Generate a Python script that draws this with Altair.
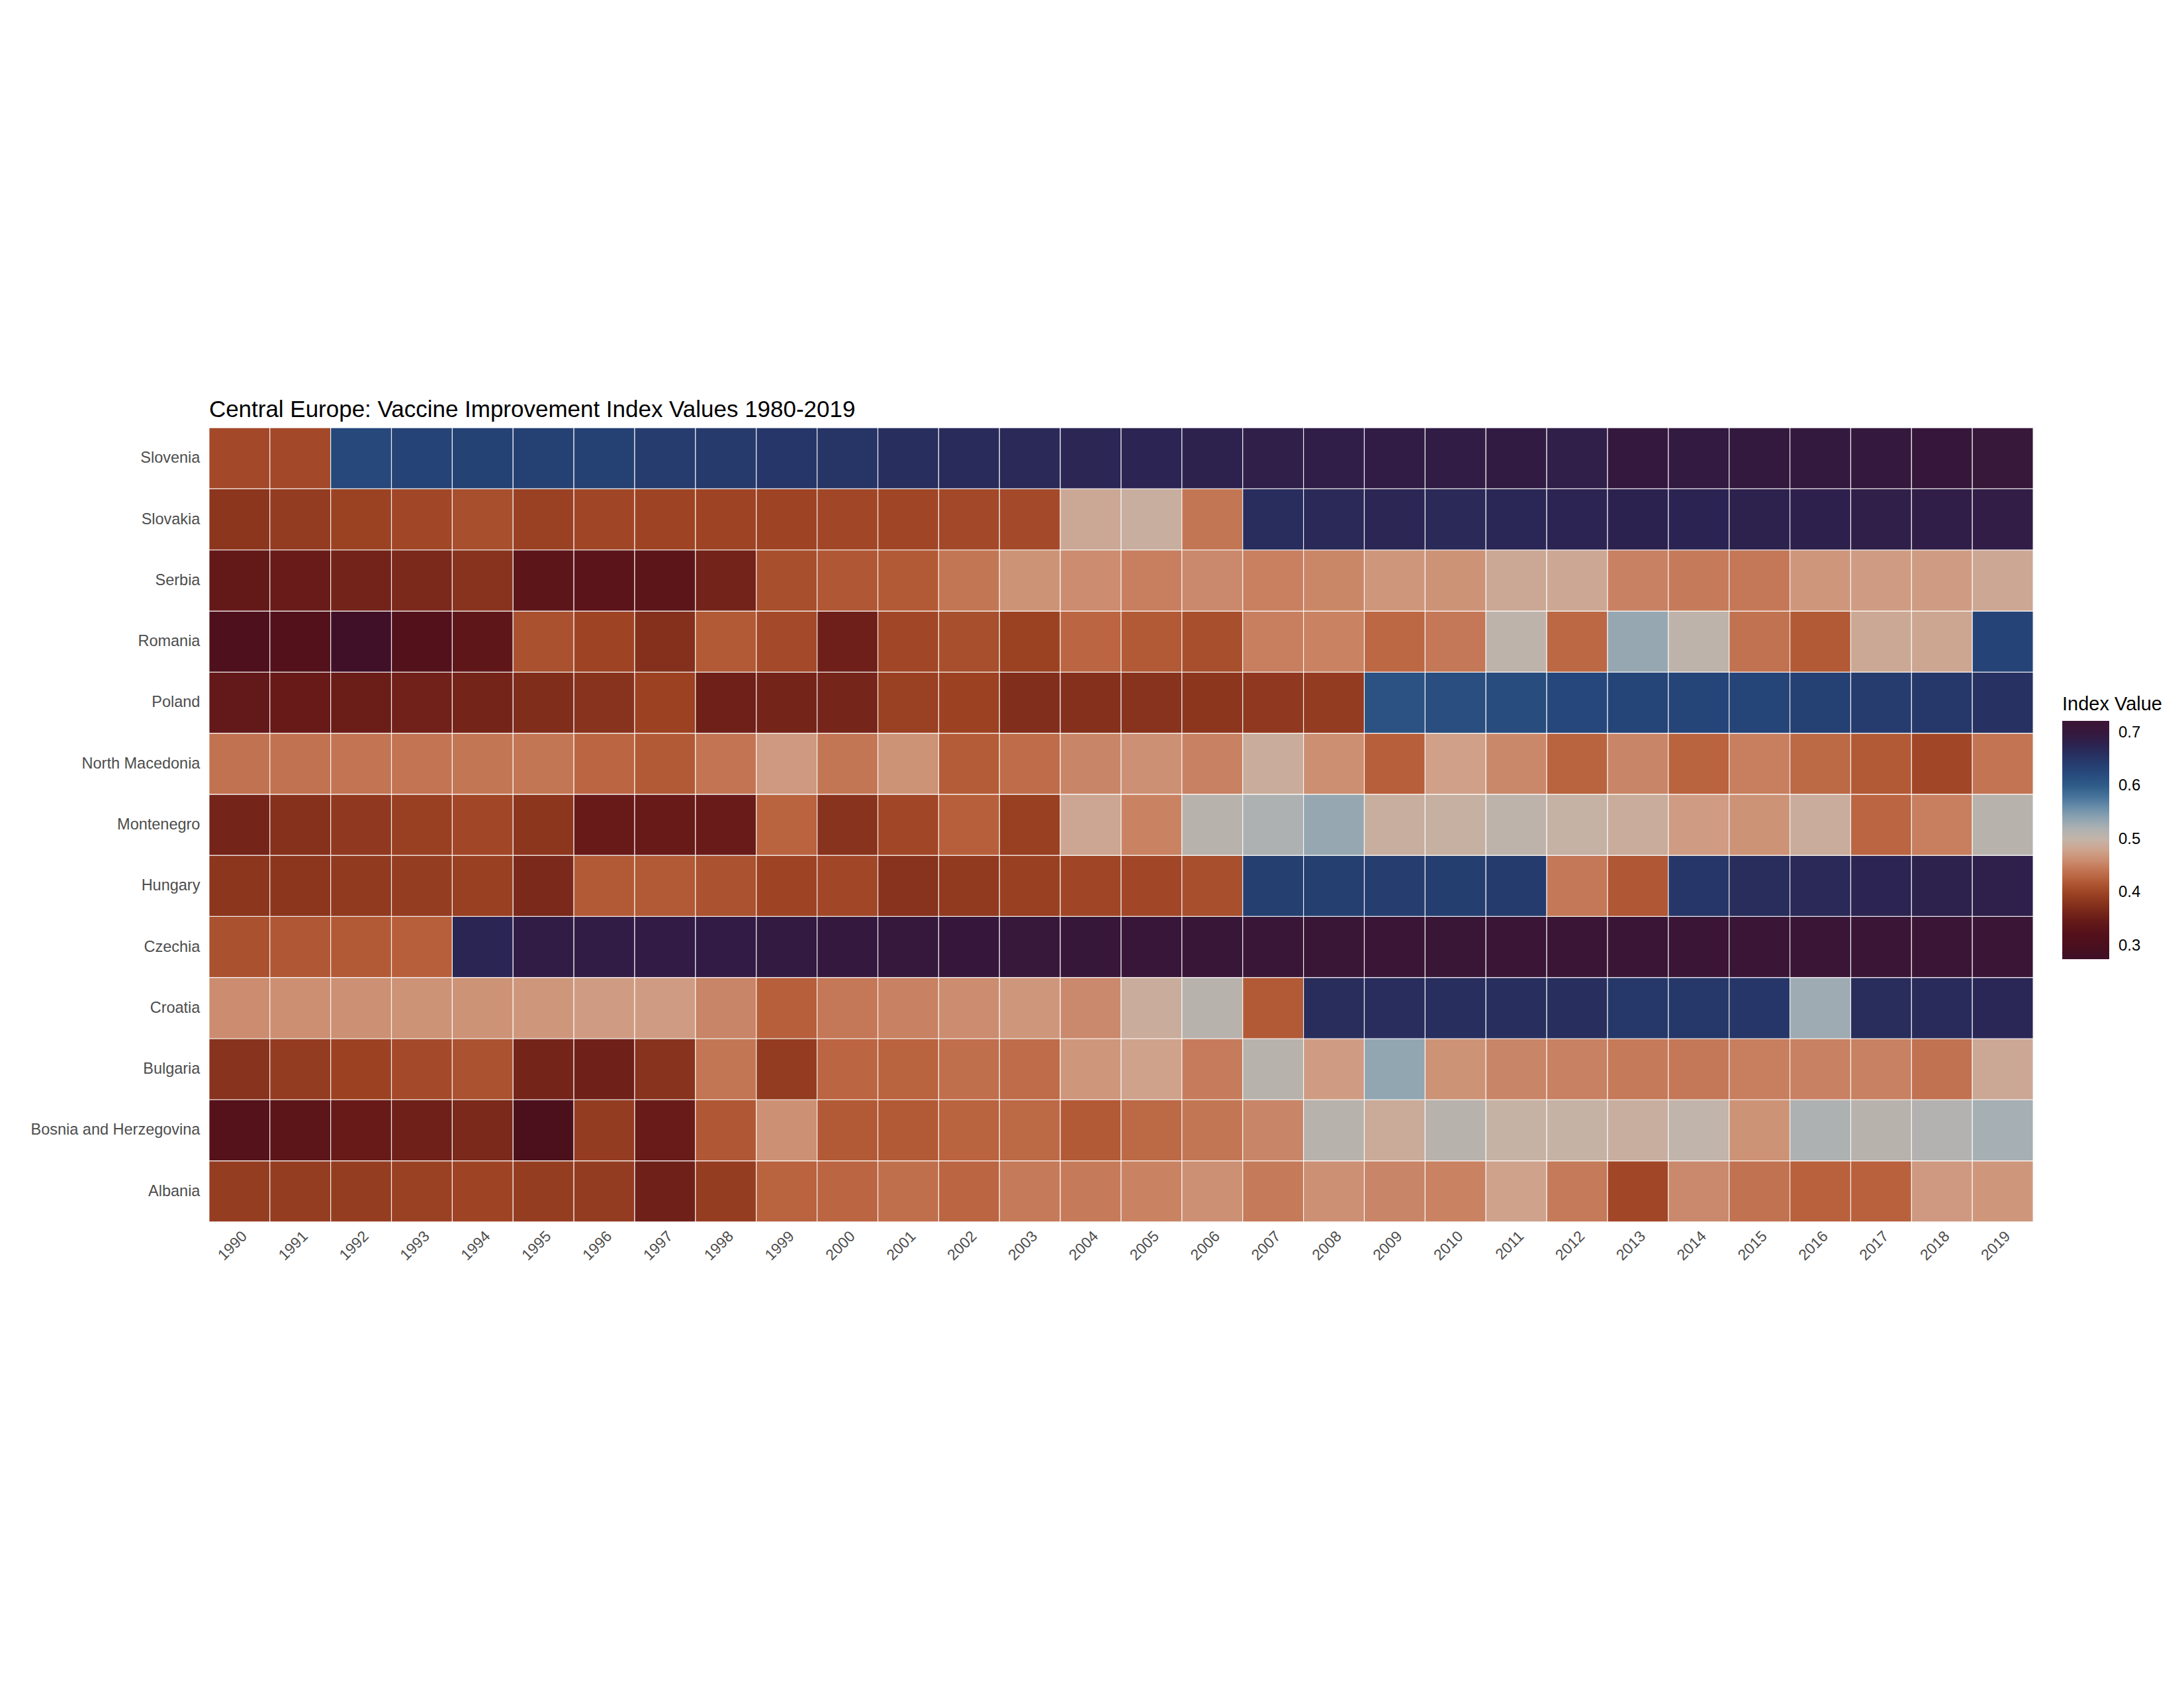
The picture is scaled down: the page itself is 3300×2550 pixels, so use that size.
import altair as alt
import pandas as pd

years = list(range(1990, 2020))

countries = ["Albania", "Bosnia and Herzegovina", "Bulgaria", "Croatia", "Czechia",
             "Hungary", "Montenegro", "North Macedonia", "Poland", "Romania",
             "Serbia", "Slovakia", "Slovenia"]

slovenia = [0.405, 0.405, 0.625, 0.632, 0.633, 0.635, 0.636, 0.642, 0.645, 0.650,
            0.652, 0.660, 0.665, 0.668, 0.672, 0.675, 0.680, 0.685, 0.687, 0.690,
            0.690, 0.693, 0.685, 0.700, 0.695, 0.697, 0.698, 0.700, 0.705, 0.708]
slovakia = [0.383, 0.390, 0.397, 0.403, 0.410, 0.396, 0.402, 0.400, 0.400, 0.400,
            0.403, 0.402, 0.405, 0.406, 0.485, 0.492, 0.443, 0.662, 0.668, 0.672,
            0.668, 0.670, 0.675, 0.677, 0.674, 0.680, 0.682, 0.685, 0.687, 0.689]
serbia = [0.345, 0.350, 0.360, 0.368, 0.380, 0.335, 0.333, 0.335, 0.360, 0.410,
          0.418, 0.420, 0.443, 0.465, 0.460, 0.450, 0.458, 0.451, 0.456, 0.468,
          0.465, 0.485, 0.484, 0.452, 0.447, 0.445, 0.468, 0.472, 0.472, 0.484]
romania = [0.310, 0.318, 0.278, 0.318, 0.338, 0.412, 0.400, 0.376, 0.420, 0.406,
           0.356, 0.403, 0.410, 0.397, 0.430, 0.420, 0.410, 0.450, 0.453, 0.432,
           0.445, 0.505, 0.432, 0.535, 0.505, 0.440, 0.420, 0.485, 0.482, 0.632]
poland = [0.343, 0.348, 0.353, 0.358, 0.362, 0.372, 0.380, 0.398, 0.357, 0.362,
          0.363, 0.396, 0.398, 0.374, 0.376, 0.380, 0.383, 0.387, 0.390, 0.612,
          0.617, 0.620, 0.626, 0.628, 0.630, 0.630, 0.636, 0.642, 0.648, 0.657]
north_macedonia = [0.440, 0.440, 0.442, 0.442, 0.443, 0.443, 0.430, 0.420, 0.442, 0.470,
                   0.443, 0.465, 0.422, 0.435, 0.455, 0.463, 0.452, 0.490, 0.462, 0.425,
                   0.475, 0.457, 0.428, 0.455, 0.428, 0.450, 0.433, 0.420, 0.403, 0.442]
montenegro = [0.362, 0.377, 0.387, 0.395, 0.403, 0.383, 0.348, 0.348, 0.350, 0.428,
              0.380, 0.403, 0.425, 0.395, 0.483, 0.453, 0.510, 0.520, 0.535, 0.493,
              0.495, 0.505, 0.497, 0.490, 0.472, 0.465, 0.490, 0.430, 0.450, 0.510]
hungary = [0.383, 0.383, 0.388, 0.392, 0.395, 0.367, 0.420, 0.420, 0.413, 0.400,
           0.403, 0.380, 0.388, 0.395, 0.402, 0.403, 0.410, 0.638, 0.638, 0.640,
           0.639, 0.643, 0.445, 0.418, 0.650, 0.663, 0.668, 0.675, 0.680, 0.683]
czechia = [0.412, 0.418, 0.420, 0.425, 0.673, 0.690, 0.690, 0.692, 0.692, 0.695,
           0.700, 0.702, 0.705, 0.708, 0.710, 0.712, 0.714, 0.717, 0.718, 0.720,
           0.718, 0.720, 0.720, 0.722, 0.722, 0.720, 0.720, 0.722, 0.722, 0.722]
croatia = [0.460, 0.462, 0.463, 0.465, 0.465, 0.468, 0.472, 0.472, 0.455, 0.425,
           0.445, 0.452, 0.460, 0.468, 0.458, 0.490, 0.510, 0.420, 0.663, 0.662,
           0.660, 0.660, 0.660, 0.648, 0.648, 0.650, 0.530, 0.663, 0.665, 0.670]
bulgaria = [0.380, 0.390, 0.398, 0.406, 0.413, 0.362, 0.357, 0.380, 0.443, 0.390,
            0.430, 0.428, 0.438, 0.435, 0.468, 0.478, 0.448, 0.510, 0.472, 0.537,
            0.465, 0.455, 0.452, 0.446, 0.445, 0.450, 0.452, 0.452, 0.440, 0.485]
bosnia = [0.325, 0.335, 0.348, 0.357, 0.367, 0.305, 0.390, 0.350, 0.418, 0.463,
          0.420, 0.420, 0.428, 0.433, 0.420, 0.433, 0.443, 0.455, 0.510, 0.488,
          0.510, 0.497, 0.497, 0.493, 0.503, 0.465, 0.520, 0.510, 0.515, 0.525]
albania = [0.392, 0.392, 0.392, 0.396, 0.400, 0.392, 0.390, 0.357, 0.392, 0.428,
           0.430, 0.438, 0.430, 0.446, 0.447, 0.453, 0.463, 0.446, 0.463, 0.455,
           0.453, 0.478, 0.446, 0.403, 0.458, 0.440, 0.427, 0.427, 0.470, 0.468]

series = {
    "Albania": albania, "Bosnia and Herzegovina": bosnia, "Bulgaria": bulgaria,
    "Croatia": croatia, "Czechia": czechia, "Hungary": hungary,
    "Montenegro": montenegro, "North Macedonia": north_macedonia, "Poland": poland,
    "Romania": romania, "Serbia": serbia, "Slovakia": slovakia, "Slovenia": slovenia,
}

# colour ramp (value stops -> colours)
stop_values = [0.275, 0.300, 0.327, 0.352, 0.376, 0.400, 0.426, 0.451, 0.475, 0.500,
               0.524, 0.549, 0.574, 0.600, 0.627, 0.652, 0.677, 0.700, 0.722]
stop_colors = ["#3e1028", "#4a0f1e", "#56121a", "#6a1c18", "#84301c", "#9e4424",
               "#b8603c", "#c88060", "#d0a088", "#c4b4a8", "#a8b0b4", "#7e9cb0",
               "#4e7aa0", "#2f5c88", "#25467a", "#263566", "#2c2250", "#35183d",
               "#3a1535"]
legend_ticks = [0.3, 0.4, 0.5, 0.6, 0.7]

rows = []
for c in countries:
    for y, v in zip(years, series[c]):
        rows.append({"Country": c, "Year": str(y), "Value": v})
df = pd.DataFrame(rows)

FONT = "Liberation Sans"

chart = alt.Chart(df).mark_rect(stroke="white", strokeWidth=1.2, strokeOpacity=0.85).encode(
    x=alt.X("Year:O", title=None,
            scale=alt.Scale(paddingInner=0, paddingOuter=0),
            axis=alt.Axis(labelAngle=-45, labelFontSize=23, labelColor="#4d4d4d",
                          labelFont=FONT, domain=False, ticks=False, grid=False,
                          labelPadding=10, labelLimit=0)),
    y=alt.Y("Country:N", title=None, sort="descending",
            scale=alt.Scale(paddingInner=0, paddingOuter=0),
            axis=alt.Axis(labelFontSize=23.5, labelColor="#4d4d4d", labelFont=FONT,
                          domain=False, ticks=False, grid=False, labelPadding=14,
                          labelLimit=0)),
    color=alt.Color("Value:Q", title="Index Value",
                    scale=alt.Scale(domain=stop_values, range=stop_colors,
                                    interpolate="rgb"),
                    legend=alt.Legend(orient="none", legendX=2801, legendY=404,
                                      values=legend_ticks, format=".1f",
                                      gradientLength=360, gradientThickness=71,
                                      gradientStrokeWidth=0,
                                      titleFontSize=29, titleFont=FONT,
                                      titleFontWeight="normal", titleColor="black",
                                      titlePadding=10, labelFontSize=24,
                                      labelFont=FONT, labelColor="black",
                                      labelOffset=14, padding=0)),
).properties(
    width=2757,
    height=1200,
    title=alt.TitleParams("Central Europe: Vaccine Improvement Index Values 1980-2019",
                          anchor="start", frame="group", fontSize=35, font=FONT,
                          fontWeight="normal", color="black", offset=-26,
                          baseline="bottom"),
    autosize=alt.AutoSizeParams(type="none"),
    padding={"left": 308, "top": 638, "right": 220, "bottom": 680},
).configure_view(stroke=None)

chart.save("out.html", embed_options={"renderer": "svg", "actions": False})
